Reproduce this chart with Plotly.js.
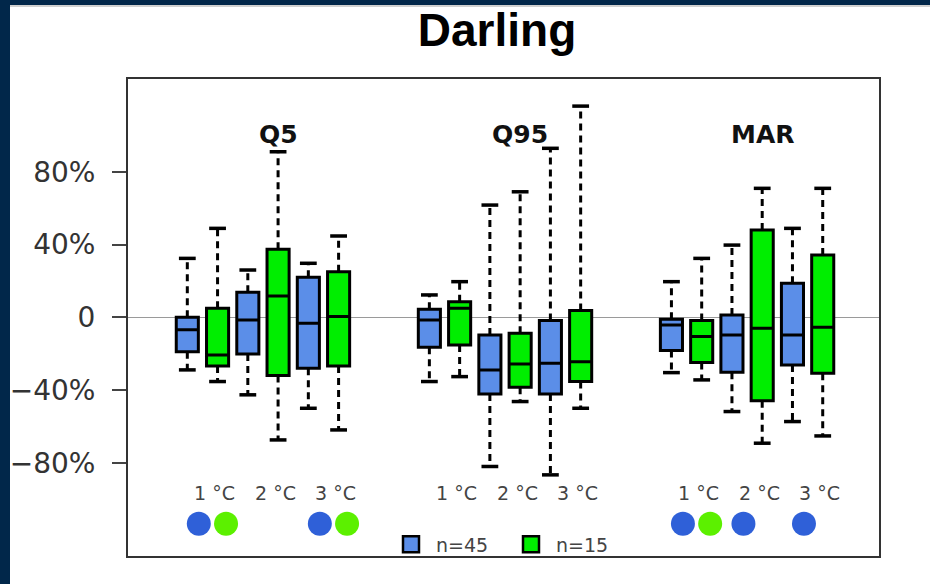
<!DOCTYPE html>
<html>
<head>
<meta charset="utf-8">
<script src="https://cdn.plot.ly/plotly-3.0.1.min.js"></script>
<style>html,body{margin:0;padding:0;background:#fff;}#chart{width:930px;height:584px;}</style>
</head>
<body>
<div id="chart"></div>
<script>
// ---- data (percent change) ----
const metrics = ['Q5', 'Q95', 'MAR'];
const temps = ['1 °C', '2 °C', '3 °C'];
const seriesNames = ['n=45', 'n=15'];

// order: Q5 (1,2,3 °C), Q95 (1,2,3 °C), MAR (1,2,3 °C)
const n45Upper  = [32.4, 26.0, 29.7, 12.3, 61.7, 92.9, 19.6, 39.7, 48.9];
const n45Q3     = [0.0, 13.8, 22.0, 4.4, -9.7, -1.8, -1.1, 1.3, 18.7];
const n45Median = [-6.9, -1.5, -3.3, -1.5, -28.9, -25.2, -4.2, -9.7, -9.7];
const n45Q1     = [-18.9, -20.1, -28.0, -16.5, -42.1, -42.1, -18.3, -30.2, -26.2];
const n45Lower  = [-28.9, -42.6, -50.0, -35.3, -82.0, -86.6, -30.4, -51.8, -57.3];

const n15Upper  = [48.9, 91.0, 44.7, 19.6, 69.0, 116.1, 32.4, 70.9, 70.9];
const n15Q3     = [5.0, 37.4, 25.1, 8.6, -8.8, 3.7, -1.8, 48.0, 34.2];
const n15Median = [-20.7, 11.7, 0.4, 5.0, -25.6, -24.4, -10.6, -6.0, -5.5];
const n15Q1     = [-26.7, -32.0, -26.7, -15.2, -38.4, -35.3, -24.9, -45.8, -30.7];
const n15Lower  = [-35.3, -67.4, -61.9, -32.6, -46.3, -50.0, -34.4, -69.2, -65.2];

// significance markers (1 = dot shown)
const n45Signif = [1, 0, 1, 0, 0, 0, 1, 1, 1];
const n15Signif = [1, 0, 1, 0, 0, 0, 1, 0, 0];

const yTickVals = [-80, -40, 0, 40, 80];
const yTickText = ['−80%', '−40%', '0', '40%', '80%'];

// ---- styling / layout ----
const BLUE = '#5b8ee8', GREEN = '#00ee00';
const DOT_BLUE = '#2f60d8', DOT_GREEN = '#5cf000';
const FONT = 'DejaVu Sans';
const W = 930, H = 584, ML = 128, MR = 51, MT = 79, MB = 27.5;
const PW = W - ML - MR, PH = H - MT - MB;
const px2x = p => (p - ML) / PW;
const py2y = p => (H - MB - p) / PH;

// positions (x in box units)
const xN45 = [], xN15 = [], pairCenter = [];
for (let i = 0; i < 9; i++) {
  const g = Math.floor(i / 3), t = i % 3;
  xN45.push(1 + 8 * g + 2 * t);
  xN15.push(2 + 8 * g + 2 * t);
  pairCenter.push(1.5 + 8 * g + 2 * t);
}

function whiskerTraces(xs, q1, q3, lo, hi) {
  const lx = [], ly = [], cx = [], cy = [];
  xs.forEach((x, i) => {
    lx.push(x, x, null, x, x, null);
    ly.push(q3[i], hi[i], null, q1[i], lo[i], null);
    cx.push(x, x);
    cy.push(hi[i], lo[i]);
  });
  return [
    {type: 'scatter', mode: 'lines', x: lx, y: ly, showlegend: false, hoverinfo: 'skip',
     line: {color: '#000', width: 3, dash: '7px,5px'}},
    {type: 'scatter', mode: 'markers', x: cx, y: cy, showlegend: false, hoverinfo: 'skip',
     marker: {symbol: 'line-ew', size: 12, line: {color: '#000', width: 3.5}}}
  ];
}

function boxTrace(xs, q1, med, q3, color) {
  return {type: 'box', x: xs, q1: q1, median: med, q3: q3, lowerfence: q1, upperfence: q3,
    width: 0.73, whiskerwidth: 0, fillcolor: color, line: {color: '#000', width: 3},
    showlegend: false, hoverinfo: 'skip', boxpoints: false};
}

const dotX45 = [], dotX15 = [];
for (let i = 0; i < 9; i++) {
  if (n45Signif[i]) dotX45.push(pairCenter[i] - 0.12);
  if (n15Signif[i]) dotX15.push(pairCenter[i] + 0.78);
}
const DOT_Y = -113.5;

const traces = [].concat(
  whiskerTraces(xN45, n45Q1, n45Q3, n45Lower, n45Upper),
  whiskerTraces(xN15, n15Q1, n15Q3, n15Lower, n15Upper),
  [boxTrace(xN45, n45Q1, n45Median, n45Q3, BLUE),
   boxTrace(xN15, n15Q1, n15Median, n15Q3, GREEN),
   {type: 'scatter', mode: 'markers', x: dotX45, y: dotX45.map(() => DOT_Y), showlegend: false,
    hoverinfo: 'skip', marker: {symbol: 'circle', size: 24, color: DOT_BLUE}},
   {type: 'scatter', mode: 'markers', x: dotX15, y: dotX15.map(() => DOT_Y), showlegend: false,
    hoverinfo: 'skip', marker: {symbol: 'circle', size: 24, color: DOT_GREEN}},
   {type: 'scatter', mode: 'markers', x: [null], y: [null], name: seriesNames[0],
    marker: {symbol: 'square', size: 16, color: BLUE, line: {color: '#000', width: 2.5}}},
   {type: 'scatter', mode: 'markers', x: [null], y: [null], name: seriesNames[1],
    marker: {symbol: 'square', size: 16, color: GREEN, line: {color: '#000', width: 2.5}}}]
);

const annotations = [];
metrics.forEach((m, g) => {
  annotations.push({xref: 'x', yref: 'y', x: 1 + 8 * g + 2.5 + 0.5, y: 100.6, text: '<b>' + m + '</b>',
    showarrow: false, font: {family: FONT, size: 25, color: '#111'}, xanchor: 'center', yanchor: 'middle'});
  temps.forEach((t, k) => {
    annotations.push({xref: 'x', yref: 'y', x: pairCenter[g * 3 + k] + 0.4, y: -96.5, text: t,
      showarrow: false, font: {family: FONT, size: 19, color: '#444'}, xanchor: 'center', yanchor: 'middle'});
  });
});

const NAVY = '#01274a';
const shapes = [
  {type: 'rect', xref: 'paper', yref: 'paper', x0: px2x(-5), x1: px2x(10), y0: py2y(H + 5), y1: py2y(-5),
   fillcolor: NAVY, line: {width: 0}, layer: 'above'},
  {type: 'rect', xref: 'paper', yref: 'paper', x0: px2x(-5), x1: px2x(W + 5), y0: py2y(5), y1: py2y(-5),
   fillcolor: NAVY, line: {width: 0}, layer: 'above'},
  {type: 'rect', xref: 'paper', yref: 'paper', x0: px2x(10), x1: px2x(W + 5), y0: py2y(7), y1: py2y(5),
   fillcolor: '#d0d0d0', line: {width: 0}, layer: 'above'}
];

const layout = {
  width: W, height: H,
  margin: {l: ML, r: MR, t: MT, b: MB, pad: 0},
  paper_bgcolor: '#fff', plot_bgcolor: '#fff',
  boxmode: 'overlay',
  title: {text: '<b>Darling</b>', font: {family: 'Liberation Sans', size: 46, color: '#000'},
    x: 497 / W, xanchor: 'center', xref: 'container', y: 1 - 30 / H, yanchor: 'middle', yref: 'container'},
  xaxis: {range: [-0.96, 23.86], showgrid: false, zeroline: false, showticklabels: false, ticks: '',
    showline: true, mirror: true, linecolor: '#333', linewidth: 2, fixedrange: true, automargin: false},
  yaxis: {range: [-131.2, 131.0], tickvals: yTickVals, ticktext: yTickText, showgrid: false,
    zeroline: true, zerolinecolor: '#9a9a9a', zerolinewidth: 1.5,
    ticks: 'outside', ticklen: 14, tickwidth: 2, tickcolor: '#444', ticklabelstandoff: 11,
    tickfont: {family: FONT, size: 28, color: '#333'},
    showline: true, mirror: true, linecolor: '#333', linewidth: 2, fixedrange: true, automargin: false},
  showlegend: true,
  legend: {orientation: 'h', x: px2x(386), xanchor: 'left', y: py2y(545), yanchor: 'middle',
    bgcolor: 'rgba(0,0,0,0)', borderwidth: 0, itemwidth: 40, entrywidth: 65, entrywidthmode: 'pixels',
    font: {family: FONT, size: 19, color: '#444'}},
  annotations: annotations,
  shapes: shapes
};

Plotly.newPlot('chart', traces, layout, {displayModeBar: false, staticPlot: true});
</script>
</body>
</html>
